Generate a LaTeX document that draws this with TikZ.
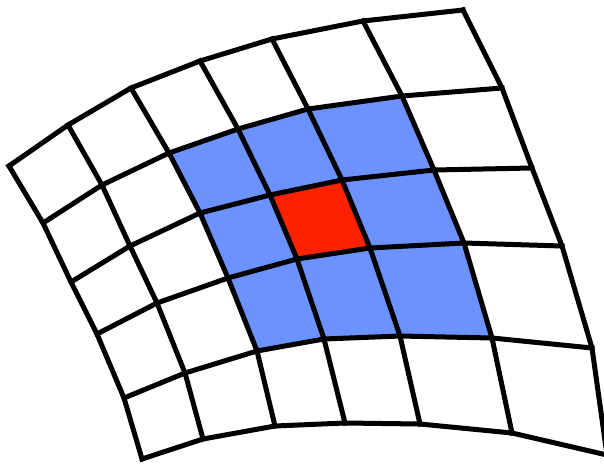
\documentclass[tikz,border=0pt]{standalone}
\definecolor{cellblue}{RGB}{108,146,255}
\definecolor{cellred}{RGB}{255,34,0}
\begin{document}
\begin{tikzpicture}[x=1pt,y=-1pt,
  gridline/.style={line width=5pt, line join=miter, line cap=rect, black}]
\useasboundingbox (0,0) rectangle (604,463);
% row 0
\coordinate (v00) at (9,166);   \coordinate (v01) at (68,125);  \coordinate (v02) at (131,88);
\coordinate (v03) at (200,61);  \coordinate (v04) at (272,39);  \coordinate (v05) at (363,21);
\coordinate (v06) at (463,10);
% row 1
\coordinate (v10) at (43,223);  \coordinate (v11) at (102,185); \coordinate (v12) at (169,153);
\coordinate (v13) at (238,129); \coordinate (v14) at (308,109); \coordinate (v15) at (402,96);
\coordinate (v16) at (502,88);
% row 2
\coordinate (v20) at (71,282);  \coordinate (v21) at (130,246); \coordinate (v22) at (200,213);
\coordinate (v23) at (270,195); \coordinate (v24) at (342,180); \coordinate (v25) at (434,170);
\coordinate (v26) at (532,168);
% row 3
\coordinate (v30) at (97,334);  \coordinate (v31) at (157,303); \coordinate (v32) at (228,278);
\coordinate (v33) at (297,259); \coordinate (v34) at (370,248); \coordinate (v35) at (464,243);
\coordinate (v36) at (562,246);
% row 4
\coordinate (v40) at (124,398); \coordinate (v41) at (185,373); \coordinate (v42) at (257,351);
\coordinate (v43) at (324,339); \coordinate (v44) at (400,336); \coordinate (v45) at (492,338);
\coordinate (v46) at (592,348);
% row 5
\coordinate (v50) at (142,459); \coordinate (v51) at (203,439); \coordinate (v52) at (275,426);
\coordinate (v53) at (345,423); \coordinate (v54) at (420,424); \coordinate (v55) at (512,433);
\coordinate (v56) at (607,455);
% fills
\fill[cellblue] (v12) -- (v13) -- (v14) -- (v15) -- (v25) -- (v35) -- (v45)
  -- (v44) -- (v43) -- (v42) -- (v32) -- (v22) -- cycle;
\fill[cellred] (v23) -- (v24) -- (v34) -- (v33) -- cycle;
% grid lines
\foreach \r in {0,...,5}
  \draw[gridline] (v\r0) \foreach \c in {1,...,6}{ -- (v\r\c)};
\foreach \c in {0,...,6}
  \draw[gridline] (v0\c) \foreach \r in {1,...,5}{ -- (v\r\c)};
\end{tikzpicture}
\end{document}
